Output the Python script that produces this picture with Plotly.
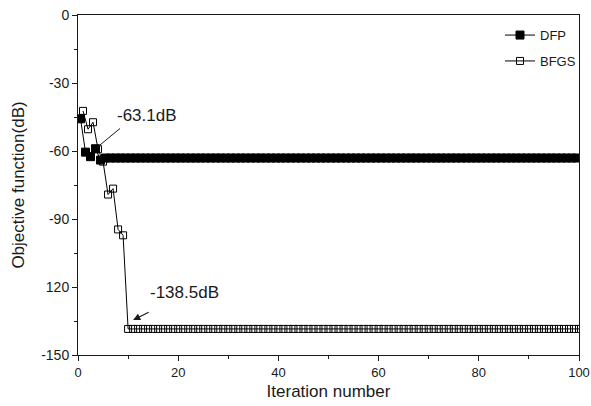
import plotly.graph_objects as go

# BFGS: iterations 1..100
bfgs_x = list(range(1, 101))
bfgs_y = [-42.3, -50.4, -47.3, -59.2, -64.7, -79.2, -76.6, -94.6, -97.2] + [-138.5] * 91

# DFP (drawn half an iteration offset in the reference)
dfp_x = [i + 0.5 for i in range(0, 100)]
dfp_y = [-45.8, -60.5, -62.5, -59.0, -64.0] + [-63.1] * 95

x_ticks = [0, 20, 40, 60, 80, 100]
y_ticks = [-150, -120, -90, -60, -30, 0]
y_tick_text = ["-150", "120", "-90", "-60", "-30", "0"]

FONT = "Liberation Sans, Arial, sans-serif"
INK = "#1a1a1a"

fig = go.Figure()
fig.add_trace(go.Scatter(
    x=dfp_x, y=dfp_y, name="DFP", mode="lines+markers", legendgroup="a",
    line=dict(color="black", width=1),
    marker=dict(symbol="square", size=8, color="black", line=dict(color="black", width=1)),
))
fig.add_trace(go.Scatter(
    x=bfgs_x, y=bfgs_y, name="BFGS", mode="lines+markers", legendgroup="b",
    line=dict(color="black", width=1),
    marker=dict(symbol="square-open", size=7, color="black", line=dict(width=1)),
))

# annotations
fig.add_annotation(x=13.7, y=-44.3, text="-63.1dB", showarrow=False,
                   font=dict(size=17, color=INK, family=FONT))
fig.add_annotation(x=3.7, y=-58.6, ax=8.7, ay=-49.5, axref="x", ayref="y",
                   text="", showarrow=True, arrowhead=0, arrowwidth=1, arrowcolor=INK)
fig.add_annotation(x=21.3, y=-122.6, text="-138.5dB", showarrow=False,
                   font=dict(size=17, color=INK, family=FONT))
fig.add_annotation(x=11.0, y=-134.6, ax=14.4, ay=-130.8, axref="x", ayref="y",
                   text="", showarrow=True, arrowhead=2, arrowsize=1.2, arrowwidth=1.2,
                   arrowcolor=INK)

fig.update_layout(
    width=591, height=406,
    margin=dict(l=78, r=12, t=15, b=51, autoexpand=False),
    paper_bgcolor="white", plot_bgcolor="white",
    font=dict(family=FONT, size=14, color=INK),
    showlegend=True,
    legend=dict(x=1.004, y=0.985, xanchor="right", yanchor="top",
                bgcolor="rgba(0,0,0,0)", borderwidth=0,
                font=dict(size=13, family=FONT, color=INK),
                traceorder="grouped", tracegroupgap=6),
)
fig.update_xaxes(
    range=[0, 100], tickvals=x_ticks, ticks="outside", ticklen=5, tickwidth=1,
    tickcolor=INK, showline=True, linecolor=INK, linewidth=1, mirror=True,
    showgrid=False, zeroline=False, automargin=False, ticklabeloverflow="allow",
    minor=dict(tickvals=[10, 30, 50, 70, 90], ticks="outside", ticklen=3, tickcolor=INK),
    title=dict(text="Iteration number", font=dict(size=17, family=FONT, color=INK), standoff=6),
    tickfont=dict(size=13, color=INK),
)
fig.update_yaxes(
    range=[-150, 0], tickvals=y_ticks, ticktext=y_tick_text, ticks="outside", ticklen=5,
    tickwidth=1, tickcolor=INK, showline=True, linecolor=INK, linewidth=1, mirror=True,
    showgrid=False, zeroline=False, automargin=False, ticklabeloverflow="allow",
    minor=dict(tickvals=[-135, -105, -75, -45, -15], ticks="outside", ticklen=3, tickcolor=INK),
    title=dict(text="Objective function(dB)", font=dict(size=17, family=FONT, color=INK), standoff=12),
    tickfont=dict(size=14, color=INK),
)

fig.write_html("out.html")
